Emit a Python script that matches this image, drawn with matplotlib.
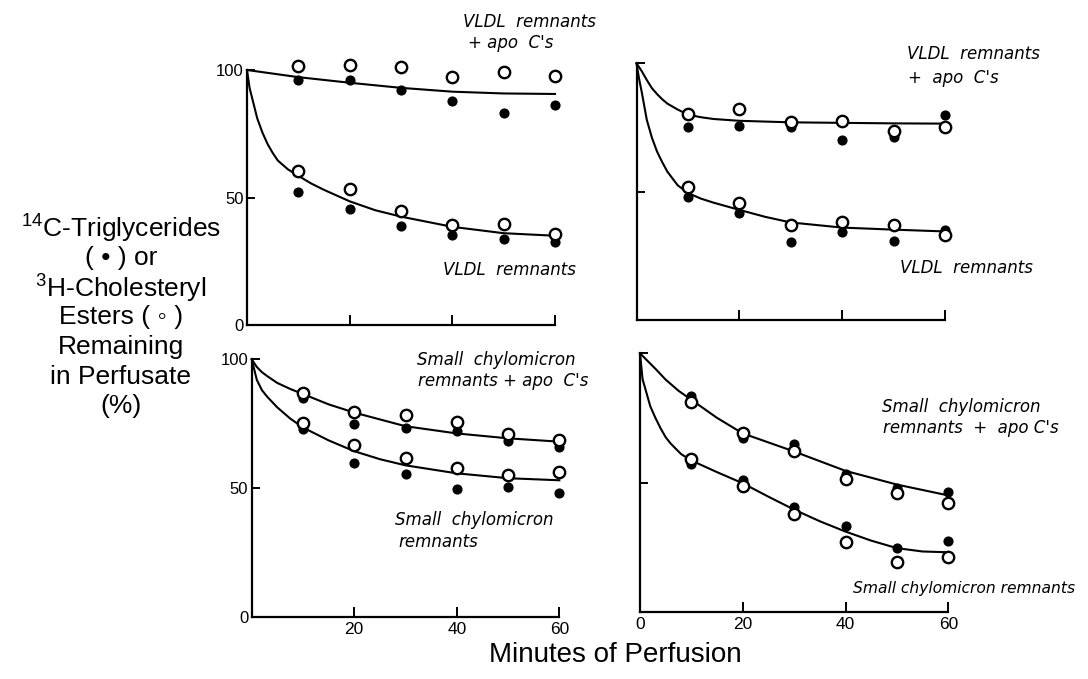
import numpy as np
import matplotlib.pyplot as plt

plt.rcParams['font.family'] = ['Liberation Sans', 'DejaVu Sans']
plt.rcParams['mathtext.fontset'] = 'custom'
plt.rcParams['mathtext.rm'] = 'Liberation Sans'

W, H = 1088, 679

minutes = [10, 20, 30, 40, 50, 60]

# top left: VLDL remnants (+ apo C's)
tl_apo_open = [101.7, 102.0, 101.3, 97.1, 99.3, 97.8]
tl_apo_fill = [96.1, 96.2, 92.2, 87.9, 83.3, 86.2]
tl_rem_open = [60.4, 53.4, 44.9, 39.4, 39.8, 35.7]
tl_rem_fill = [52.1, 45.3, 38.7, 35.4, 33.7, 32.4]
tl_apo_curve_t = [0, 10, 20, 30, 40, 50, 60]
tl_apo_curve = [100, 97.2, 95.0, 93.0, 91.5, 90.8, 90.6]
tl_rem_curve_t = [0, 0.5, 1, 2, 3, 4, 5, 6, 8, 10, 12.5, 15, 20, 25, 30, 40, 50, 60]
tl_rem_curve = [100, 93, 89, 81, 75.5, 71, 67.5, 64.5, 61, 58.5, 55.5, 53, 48.5, 45, 42.5, 38.5, 36, 35]

# top right: VLDL remnants (+ apo C's)
tr_apo_open = [80.1, 82.2, 77.3, 77.5, 73.8, 75.3]
tr_apo_fill = [75.1, 75.6, 75.3, 70.1, 71.2, 79.9]
tr_rem_open = [51.9, 45.4, 37.0, 38.0, 37.0, 33.1]
tr_rem_fill = [48.0, 41.8, 30.3, 34.4, 30.9, 35.1]
tr_apo_curve_t = [0, 1, 2, 3, 4, 5, 6, 8, 10, 12.5, 15, 20, 30, 40, 50, 60]
tr_apo_curve = [100, 97, 93.5, 90.3, 88, 86, 84.3, 82, 80, 79, 78.3, 77.6, 77, 76.8, 76.6, 76.5]
tr_rem_curve_t = [0, 0.5, 1, 2, 3, 4, 5, 6, 8, 10, 12.5, 15, 20, 25, 30, 40, 50, 60]
tr_rem_curve = [100, 94, 89, 78, 71, 65.6, 61.5, 57.8, 52.5, 49.5, 47.3, 45.7, 42.9, 40.2, 38, 36, 35.2, 34.5]

# bottom left: small chylomicron remnants (+ apo C's)
bl_apo_open = [87.0, 79.6, 78.4, 75.5, 70.9, 68.7]
bl_apo_fill = [84.8, 74.7, 73.2, 72.3, 68.3, 66.1]
bl_rem_open = [75.1, 66.7, 61.5, 57.7, 55.1, 56.3]
bl_rem_fill = [72.8, 59.8, 55.3, 49.5, 50.5, 47.9]
bl_apo_curve_t = [0, 1, 2, 3, 5, 7.5, 10, 15, 20, 30, 40, 50, 60]
bl_apo_curve = [100, 97, 95, 93.5, 90.8, 88.5, 86.5, 82.5, 79.3, 74, 71.2, 69.3, 68]
bl_rem_curve_t = [0, 1, 2, 3, 5, 7.5, 10, 15, 20, 25, 30, 40, 50, 60]
bl_rem_curve = [100, 92, 88, 85.5, 81.3, 77, 73.5, 68.5, 64.3, 61.2, 58.8, 55.7, 53.8, 53]

# bottom right: small chylomicron remnants (+ apo C's)
br_apo_open = [81.3, 69.3, 62.0, 51.2, 46.1, 42.2]
br_apo_fill = [83.5, 67.1, 64.8, 53.3, 47.8, 46.4]
br_rem_open = [59.2, 48.6, 37.8, 27.1, 19.3, 21.3]
br_rem_fill = [57.2, 51.0, 40.6, 33.3, 24.5, 27.5]
br_apo_curve_t = [0, 1, 2, 3, 5, 7.5, 10, 15, 20, 30, 40, 50, 60]
br_apo_curve = [100, 98, 96, 94, 89.8, 85.5, 82, 75, 69, 62, 54.5, 49.2, 45]
br_rem_curve_t = [0, 0.5, 1, 2, 3, 4, 5, 6, 8, 10, 15, 20, 25, 30, 35, 40, 45, 50, 55, 60]
br_rem_curve = [100, 90, 86.5, 79.5, 75, 71, 67.5, 65, 61, 58.5, 54, 49.7, 44.5, 39.5, 35, 31, 27.5, 24.6, 23.3, 23]

x_ticks = [0, 20, 40, 60]
y_ticks = [0, 50, 100]


def px(x, y):
    return x / W, 1 - y / H


fig = plt.figure(figsize=(W / 100, H / 100), dpi=100)


def add_panel(rect, xlabels, ylabels):
    l, t, r, b = rect
    ax = fig.add_axes([l / W, 1 - b / H, (r - l) / W, (b - t) / H])
    ax.set_xlim(0, 60)
    ax.set_ylim(0, 100)
    ax.patch.set_visible(False)
    for s in ['top', 'right']:
        ax.spines[s].set_visible(False)
    for s in ['left', 'bottom']:
        ax.spines[s].set_linewidth(1.6)
    ax.set_xticks(x_ticks)
    ax.set_yticks(y_ticks)
    ax.tick_params(axis='x', direction='in', length=7, width=1.4, pad=4,
                   labelsize=12.5, labelbottom=xlabels)
    ax.tick_params(axis='y', direction='in', length=6, width=1.4, pad=2.5,
                   labelsize=12, labelleft=ylabels)
    ax.xaxis.get_major_ticks()[0].tick1line.set_visible(False)
    ax.yaxis.get_major_ticks()[0].tick1line.set_visible(False)
    if not xlabels or ylabels:
        ax.xaxis.get_major_ticks()[0].label1.set_visible(False)
    return ax


def draw_group(ax, curve_t, curve, fill, open_):
    ax.plot(curve_t, curve, color='black', lw=1.5, clip_on=False, zorder=2)
    ax.plot(minutes, fill, 'o', color='black', ms=6.3, clip_on=False, zorder=3)
    ax.plot(minutes, open_, 'o', mfc='white', mec='black', mew=1.7, ms=8.2,
            clip_on=False, zorder=4)


ax_tl = add_panel((247, 70, 555, 325), False, True)
draw_group(ax_tl, tl_apo_curve_t, tl_apo_curve, tl_apo_fill, tl_apo_open)
draw_group(ax_tl, tl_rem_curve_t, tl_rem_curve, tl_rem_fill, tl_rem_open)

ax_tr = add_panel((636.5, 63.3, 945, 320), False, False)
draw_group(ax_tr, tr_apo_curve_t, tr_apo_curve, tr_apo_fill, tr_apo_open)
draw_group(ax_tr, tr_rem_curve_t, tr_rem_curve, tr_rem_fill, tr_rem_open)

ax_bl = add_panel((251.7, 359.3, 559.3, 616.7), True, True)
draw_group(ax_bl, bl_apo_curve_t, bl_apo_curve, bl_apo_fill, bl_apo_open)
draw_group(ax_bl, bl_rem_curve_t, bl_rem_curve, bl_rem_fill, bl_rem_open)

ax_br = add_panel((640, 353.3, 948.3, 611.7), True, False)
draw_group(ax_br, br_apo_curve_t, br_apo_curve, br_apo_fill, br_apo_open)
draw_group(ax_br, br_rem_curve_t, br_rem_curve, br_rem_fill, br_rem_open)

# curve labels (text, left x, centre y, size)
labels = [
    ("VLDL  remnants", 463, 22, 12), ("+ apo  C's", 468, 43, 12),
    ("VLDL  remnants", 443, 270, 12),
    ("VLDL  remnants", 907, 54, 12), ("+  apo  C's", 908, 78, 12),
    ("VLDL  remnants", 900, 268, 12),
    ("Small  chylomicron", 417, 360, 12), ("remnants + apo  C's", 418, 381, 12),
    ("Small  chylomicron", 395, 520, 12), ("remnants", 398, 542, 12),
    ("Small  chylomicron", 882, 407, 12), ("remnants  +  apo C's", 883, 428, 12),
    ("Small chylomicron remnants", 853, 588, 11.2),
]
for txt, x, y, fs in labels:
    fig.text(*px(x, y), txt, ha='left', va='center', fontsize=fs,
             style='italic', family='DejaVu Sans')

# y label block
ylab = [r"$^{14}$C-Triglycerides", "( \u2022 ) or", r"$^{3}$H-Cholesteryl",
        "Esters ( \u25e6 )", "Remaining", "in Perfusate", "(%)"]
for i, line in enumerate(ylab):
    fig.text(*px(121, 228 + i * 29.7), line, ha='center', va='center', fontsize=19)

fig.text(*px(615, 655), "Minutes of Perfusion", ha='center', va='center', fontsize=20)

fig.savefig('out.png', dpi=100)
